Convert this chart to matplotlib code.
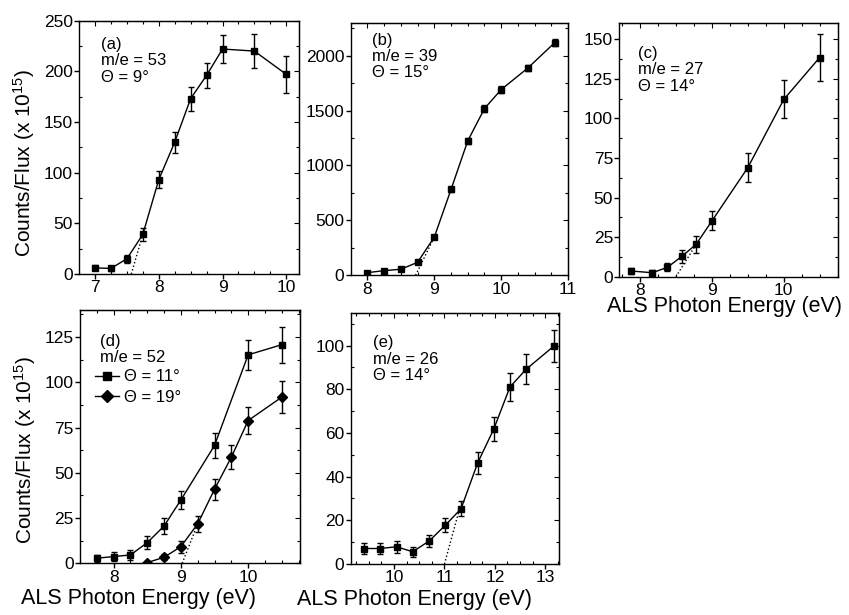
import matplotlib
matplotlib.use('Agg')
import matplotlib.pyplot as plt
from matplotlib.ticker import MultipleLocator
from matplotlib.lines import Line2D

plt.rcParams['font.family'] = ['Liberation Sans', 'DejaVu Sans']
plt.rcParams['mathtext.default'] = 'regular'

# (a) m/e = 53
a_x = [7.0, 7.25, 7.5, 7.75, 8.0, 8.25, 8.5, 8.75, 9.0, 9.5, 10.0]
a_y = [6, 5.5, 15, 39, 93, 130, 173, 196, 222, 220, 197]
a_err = [2.5, 2.5, 4, 6, 8.5, 10.5, 12, 12.5, 14, 16.5, 18]
a_onset_x = [7.57, 7.75]
a_onset_y = [0, 39]

# (b) m/e = 39
b_x = [8.0, 8.25, 8.5, 8.75, 9.0, 9.25, 9.5, 9.75, 10.0, 10.4, 10.8]
b_y = [24, 42, 55, 118, 348, 782, 1224, 1518, 1691, 1888, 2118]
b_err = [12, 12, 14, 18, 22, 20, 28, 30, 28, 30, 30]
b_onset_x = [8.72, 9.0]
b_onset_y = [0, 348]

# (c) m/e = 27
c_x = [7.87, 8.17, 8.38, 8.58, 8.78, 9.0, 9.5, 10.0, 10.5]
c_y = [3.6, 2.5, 5.9, 12.8, 20.4, 35.2, 68.9, 111.9, 138.4]
c_err = [2, 1.5, 2.5, 4, 5.5, 6, 9, 12, 15]
c_onset_x = [8.5, 8.78]
c_onset_y = [0, 20.4]

# (d) m/e = 52, two angles
d11_x = [7.75, 8.0, 8.25, 8.5, 8.75, 9.0, 9.5, 10.0, 10.5]
d11_y = [2.8, 3.7, 4.6, 11.4, 20.6, 35.0, 65.1, 115.2, 120.8]
d11_err = [2, 2.7, 3, 3.7, 4.4, 5, 7, 8.3, 10]
d19_x = [8.5, 8.75, 9.0, 9.25, 9.5, 9.75, 10.0, 10.5]
d19_y = [0.4, 3.3, 9.2, 21.8, 40.9, 58.6, 78.9, 91.8]
d19_err = [1, 1.7, 3.3, 4.3, 5.8, 6.6, 7.5, 8.7]
d_onset_x = [9.02, 9.25]
d_onset_y = [0, 21.8]

# (e) m/e = 26
e_x = [9.4, 9.72, 10.05, 10.37, 10.7, 11.02, 11.33, 11.66, 11.98, 12.3, 12.62, 13.17]
e_y = [7.1, 7.1, 7.9, 5.6, 10.6, 17.8, 25.3, 46.3, 61.8, 81.0, 89.1, 99.7]
e_err = [2.6, 2.6, 2.7, 2.3, 2.7, 3.2, 3.4, 5, 5.7, 6.5, 6.8, 7.4]
e_onset_x = [11.0, 11.3]
e_onset_y = [0, 25.3]

fig = plt.figure(figsize=(8.49, 6.15), dpi=100)
ax_a = fig.add_axes([0.0931, 0.5545, 0.2591, 0.4119])
ax_b = fig.add_axes([0.4131, 0.5524, 0.2560, 0.4107])
ax_c = fig.add_axes([0.7294, 0.5501, 0.2572, 0.4120])
ax_d = fig.add_axes([0.0942, 0.0841, 0.2591, 0.4119])
ax_e = fig.add_axes([0.4131, 0.0829, 0.2457, 0.4086])


def style_axes(ax, xlim, ylim, xmaj, xmin, ymaj, ymin):
    ax.set_xlim(*xlim)
    ax.set_ylim(*ylim)
    ax.xaxis.set_major_locator(MultipleLocator(xmaj))
    ax.xaxis.set_minor_locator(MultipleLocator(xmin))
    ax.yaxis.set_major_locator(MultipleLocator(ymaj))
    ax.yaxis.set_minor_locator(MultipleLocator(ymin))
    ax.tick_params(which='major', direction='out', length=3.5, width=1,
                   labelsize=12.5, pad=1, top=False, right=False)
    ax.tick_params(which='minor', direction='in', length=2.5, width=0.8,
                   top=False, right=False)
    for s in ax.spines.values():
        s.set_linewidth(1)
    # mirrored ticks on top and right, pointing in
    top = ax.secondary_xaxis('top')
    top.xaxis.set_major_locator(MultipleLocator(xmaj))
    top.xaxis.set_minor_locator(MultipleLocator(xmin))
    top.tick_params(which='major', direction='in', length=3.5, width=0.8, labeltop=False)
    top.tick_params(which='minor', direction='in', length=2.5, width=0.8)
    right = ax.secondary_yaxis('right')
    right.yaxis.set_major_locator(MultipleLocator(ymaj))
    right.yaxis.set_minor_locator(MultipleLocator(ymin))
    right.tick_params(which='major', direction='in', length=3.5, width=0.8, labelright=False)
    right.tick_params(which='minor', direction='in', length=2.5, width=0.8)


def draw(ax, x, y, err, marker='s', ms=4.5):
    ax.errorbar(x, y, yerr=err, color='black', marker=marker, markersize=ms,
                linewidth=1, elinewidth=1, capsize=2.5, capthick=1)


def onset(ax, x, y):
    ax.plot(x, y, color='black', linestyle=':', linewidth=1)


def note(ax, x, y, txt):
    ax.text(x, y, txt, transform=ax.transAxes, ha='left', va='top',
            fontsize=12, linespacing=1.1)


ylab = 'Counts/Flux (x 10$^{15}$)'
xlab = 'ALS Photon Energy (eV)'

# (a)
draw(ax_a, a_x, a_y, a_err)
onset(ax_a, a_onset_x, a_onset_y)
style_axes(ax_a, (6.75, 10.2), (0, 250), 1, 0.25, 50, 25)
note(ax_a, 0.10, 0.935, '(a)\nm/e = 53\nΘ = 9°')
ax_a.set_ylabel(ylab, fontsize=15)
ax_a.yaxis.set_label_coords(-0.19, 0.44)

# (b)
draw(ax_b, b_x, b_y, b_err)
onset(ax_b, b_onset_x, b_onset_y)
style_axes(ax_b, (7.75, 11.0), (0, 2300), 1, 0.25, 500, 250)
note(ax_b, 0.10, 0.96, '(b)\nm/e = 39\nΘ = 15°')

# (c)
draw(ax_c, c_x, c_y, c_err)
onset(ax_c, c_onset_x, c_onset_y)
style_axes(ax_c, (7.71, 10.75), (0, 160), 1, 0.25, 25, 12.5)
note(ax_c, 0.085, 0.91, '(c)\nm/e = 27\nΘ = 14°')
ax_c.set_xlabel(xlab, fontsize=15.5)
ax_c.xaxis.set_label_coords(0.48, -0.078)

# (d)
draw(ax_d, d11_x, d11_y, d11_err, marker='s', ms=5)
draw(ax_d, d19_x, d19_y, d19_err, marker='D', ms=5)
onset(ax_d, d_onset_x, d_onset_y)
style_axes(ax_d, (7.5, 10.77), (0, 140), 1, 0.25, 25, 12.5)
note(ax_d, 0.09, 0.905, '(d)\nm/e = 52')
handles = [Line2D([], [], color='black', marker='s', markersize=6, linewidth=1),
           Line2D([], [], color='black', marker='D', markersize=6, linewidth=1)]
ax_d.legend(handles, ['Θ = 11°', 'Θ = 19°'], loc='upper left',
            bbox_to_anchor=(0.07, 0.765), frameon=False, fontsize=12,
            handlelength=1.4, handletextpad=0.3, labelspacing=0.35,
            borderpad=0, borderaxespad=0)
ax_d.set_ylabel(ylab, fontsize=15)
ax_d.yaxis.set_label_coords(-0.19, 0.447)
ax_d.set_xlabel(xlab, fontsize=15.5)
ax_d.xaxis.set_label_coords(0.264, -0.098)

# (e)
draw(ax_e, e_x, e_y, e_err, ms=4)
onset(ax_e, e_onset_x, e_onset_y)
style_axes(ax_e, (9.14, 13.28), (0, 115), 1, 0.25, 20, 10)
note(ax_e, 0.105, 0.91, '(e)\nm/e = 26\nΘ = 14°')
ax_e.set_xlabel(xlab, fontsize=15.5)
ax_e.xaxis.set_label_coords(0.308, -0.098)

fig.savefig('out.png', dpi=100)
